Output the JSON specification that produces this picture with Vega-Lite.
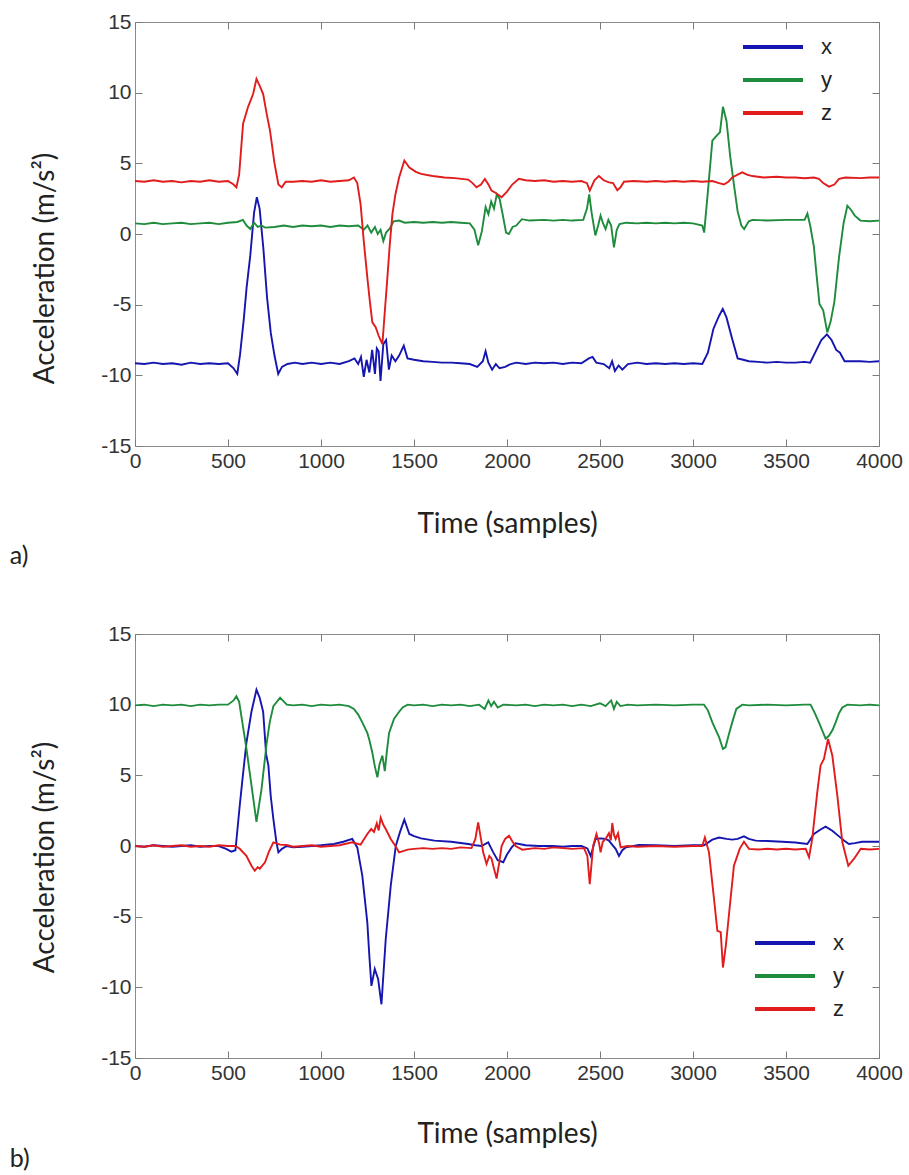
{
"$schema": "https://vega.github.io/schema/vega-lite/v6.json",
"background": "white",
"padding": {"left": 9, "top": 10, "right": 5, "bottom": 0},
"config": {
 "view": {"stroke": "#8c8c8c", "strokeWidth": 1},
 "axis": {"grid": false, "domain": false, "tickColor": "#7a7a7a", "tickSize": -7, "tickWidth": 1, "labelFont": "Liberation Sans", "labelFontSize": 21, "labelColor": "#333333", "labelPadding": 11, "labelFlush": false, "labelOverlap": false, "labelExpr": "'' + datum.value", "titleFont": "Lato", "titleFontSize": 28, "titleFontWeight": "normal", "titleColor": "#222222"},
 "legend": {"symbolType": "M-1.5,0H1.5", "symbolSize": 1600, "symbolStrokeWidth": 4, "labelFont": "Liberation Sans", "labelFontSize": 22, "labelColor": "#222222", "labelOffset": 26, "rowPadding": 0, "padding": 0},
 "title": {"font": "Lato", "fontSize": 25, "fontWeight": "normal", "color": "#222222"}
},
"data": {"values": [
{"p":"a","s":"x","t":0,"v":-9.15},{"p":"a","s":"x","t":50,"v":-9.2},{"p":"a","s":"x","t":100,"v":-9.1},{"p":"a","s":"x","t":150,"v":-9.2},{"p":"a","s":"x","t":200,"v":-9.15},{"p":"a","s":"x","t":250,"v":-9.25},{"p":"a","s":"x","t":300,"v":-9.1},{"p":"a","s":"x","t":350,"v":-9.2},{"p":"a","s":"x","t":400,"v":-9.15},{"p":"a","s":"x","t":450,"v":-9.2},{"p":"a","s":"x","t":500,"v":-9.15},{"p":"a","s":"x","t":530,"v":-9.5},{"p":"a","s":"x","t":550,"v":-9.9},{"p":"a","s":"x","t":565,"v":-8.5},{"p":"a","s":"x","t":585,"v":-6.0},{"p":"a","s":"x","t":600,"v":-3.8},{"p":"a","s":"x","t":620,"v":-1.5},{"p":"a","s":"x","t":640,"v":1.5},{"p":"a","s":"x","t":655,"v":2.6},{"p":"a","s":"x","t":670,"v":1.8},{"p":"a","s":"x","t":690,"v":-1.0},{"p":"a","s":"x","t":710,"v":-4.5},{"p":"a","s":"x","t":730,"v":-7.0},{"p":"a","s":"x","t":750,"v":-8.6},{"p":"a","s":"x","t":770,"v":-9.9},{"p":"a","s":"x","t":790,"v":-9.4},{"p":"a","s":"x","t":820,"v":-9.2},{"p":"a","s":"x","t":860,"v":-9.1},{"p":"a","s":"x","t":900,"v":-9.2},{"p":"a","s":"x","t":950,"v":-9.1},{"p":"a","s":"x","t":1000,"v":-9.2},{"p":"a","s":"x","t":1050,"v":-9.1},{"p":"a","s":"x","t":1100,"v":-9.2},{"p":"a","s":"x","t":1150,"v":-9.0},{"p":"a","s":"x","t":1180,"v":-8.8},{"p":"a","s":"x","t":1200,"v":-9.2},{"p":"a","s":"x","t":1215,"v":-8.7},{"p":"a","s":"x","t":1230,"v":-10.1},{"p":"a","s":"x","t":1245,"v":-8.9},{"p":"a","s":"x","t":1260,"v":-9.8},{"p":"a","s":"x","t":1275,"v":-8.2},{"p":"a","s":"x","t":1290,"v":-9.9},{"p":"a","s":"x","t":1300,"v":-8.1},{"p":"a","s":"x","t":1310,"v":-8.3},{"p":"a","s":"x","t":1320,"v":-10.4},{"p":"a","s":"x","t":1335,"v":-7.8},{"p":"a","s":"x","t":1350,"v":-7.5},{"p":"a","s":"x","t":1365,"v":-9.6},{"p":"a","s":"x","t":1380,"v":-8.6},{"p":"a","s":"x","t":1400,"v":-9.0},{"p":"a","s":"x","t":1420,"v":-8.6},{"p":"a","s":"x","t":1445,"v":-7.9},{"p":"a","s":"x","t":1465,"v":-8.8},{"p":"a","s":"x","t":1500,"v":-8.9},{"p":"a","s":"x","t":1550,"v":-9.0},{"p":"a","s":"x","t":1600,"v":-9.05},{"p":"a","s":"x","t":1650,"v":-9.1},{"p":"a","s":"x","t":1700,"v":-9.1},{"p":"a","s":"x","t":1750,"v":-9.15},{"p":"a","s":"x","t":1800,"v":-9.2},{"p":"a","s":"x","t":1840,"v":-9.4},{"p":"a","s":"x","t":1870,"v":-9.0},{"p":"a","s":"x","t":1885,"v":-8.3},{"p":"a","s":"x","t":1900,"v":-9.1},{"p":"a","s":"x","t":1920,"v":-9.6},{"p":"a","s":"x","t":1940,"v":-9.2},{"p":"a","s":"x","t":1960,"v":-9.5},{"p":"a","s":"x","t":1990,"v":-9.4},{"p":"a","s":"x","t":2020,"v":-9.2},{"p":"a","s":"x","t":2050,"v":-9.1},{"p":"a","s":"x","t":2100,"v":-9.2},{"p":"a","s":"x","t":2150,"v":-9.1},{"p":"a","s":"x","t":2200,"v":-9.15},{"p":"a","s":"x","t":2250,"v":-9.1},{"p":"a","s":"x","t":2300,"v":-9.2},{"p":"a","s":"x","t":2350,"v":-9.1},{"p":"a","s":"x","t":2400,"v":-9.15},{"p":"a","s":"x","t":2440,"v":-8.8},{"p":"a","s":"x","t":2460,"v":-8.7},{"p":"a","s":"x","t":2480,"v":-9.1},{"p":"a","s":"x","t":2520,"v":-9.2},{"p":"a","s":"x","t":2550,"v":-9.5},{"p":"a","s":"x","t":2565,"v":-9.0},{"p":"a","s":"x","t":2580,"v":-9.7},{"p":"a","s":"x","t":2600,"v":-9.3},{"p":"a","s":"x","t":2620,"v":-9.6},{"p":"a","s":"x","t":2650,"v":-9.2},{"p":"a","s":"x","t":2700,"v":-9.1},{"p":"a","s":"x","t":2750,"v":-9.2},{"p":"a","s":"x","t":2800,"v":-9.15},{"p":"a","s":"x","t":2850,"v":-9.2},{"p":"a","s":"x","t":2900,"v":-9.15},{"p":"a","s":"x","t":2950,"v":-9.2},{"p":"a","s":"x","t":3000,"v":-9.15},{"p":"a","s":"x","t":3050,"v":-9.2},{"p":"a","s":"x","t":3080,"v":-8.4},{"p":"a","s":"x","t":3110,"v":-6.7},{"p":"a","s":"x","t":3140,"v":-5.8},{"p":"a","s":"x","t":3160,"v":-5.3},{"p":"a","s":"x","t":3180,"v":-5.9},{"p":"a","s":"x","t":3210,"v":-7.4},{"p":"a","s":"x","t":3240,"v":-8.8},{"p":"a","s":"x","t":3270,"v":-8.9},{"p":"a","s":"x","t":3300,"v":-9.0},{"p":"a","s":"x","t":3350,"v":-9.05},{"p":"a","s":"x","t":3400,"v":-9.1},{"p":"a","s":"x","t":3450,"v":-9.05},{"p":"a","s":"x","t":3500,"v":-9.1},{"p":"a","s":"x","t":3550,"v":-9.1},{"p":"a","s":"x","t":3600,"v":-9.05},{"p":"a","s":"x","t":3630,"v":-9.1},{"p":"a","s":"x","t":3660,"v":-8.3},{"p":"a","s":"x","t":3690,"v":-7.5},{"p":"a","s":"x","t":3720,"v":-7.1},{"p":"a","s":"x","t":3745,"v":-7.5},{"p":"a","s":"x","t":3770,"v":-8.2},{"p":"a","s":"x","t":3790,"v":-8.4},{"p":"a","s":"x","t":3815,"v":-9.0},{"p":"a","s":"x","t":3850,"v":-9.0},{"p":"a","s":"x","t":3900,"v":-9.0},{"p":"a","s":"x","t":3950,"v":-9.05},{"p":"a","s":"x","t":4000,"v":-9.0},
{"p":"a","s":"y","t":0,"v":0.75},{"p":"a","s":"y","t":50,"v":0.7},{"p":"a","s":"y","t":100,"v":0.8},{"p":"a","s":"y","t":150,"v":0.7},{"p":"a","s":"y","t":200,"v":0.75},{"p":"a","s":"y","t":250,"v":0.8},{"p":"a","s":"y","t":300,"v":0.7},{"p":"a","s":"y","t":350,"v":0.75},{"p":"a","s":"y","t":400,"v":0.8},{"p":"a","s":"y","t":450,"v":0.7},{"p":"a","s":"y","t":500,"v":0.8},{"p":"a","s":"y","t":550,"v":0.85},{"p":"a","s":"y","t":580,"v":1.0},{"p":"a","s":"y","t":600,"v":0.6},{"p":"a","s":"y","t":620,"v":0.35},{"p":"a","s":"y","t":640,"v":0.8},{"p":"a","s":"y","t":660,"v":0.5},{"p":"a","s":"y","t":680,"v":0.6},{"p":"a","s":"y","t":700,"v":0.45},{"p":"a","s":"y","t":750,"v":0.5},{"p":"a","s":"y","t":800,"v":0.6},{"p":"a","s":"y","t":850,"v":0.5},{"p":"a","s":"y","t":900,"v":0.6},{"p":"a","s":"y","t":950,"v":0.55},{"p":"a","s":"y","t":1000,"v":0.6},{"p":"a","s":"y","t":1050,"v":0.5},{"p":"a","s":"y","t":1100,"v":0.6},{"p":"a","s":"y","t":1150,"v":0.55},{"p":"a","s":"y","t":1200,"v":0.6},{"p":"a","s":"y","t":1230,"v":0.3},{"p":"a","s":"y","t":1250,"v":0.6},{"p":"a","s":"y","t":1270,"v":0.1},{"p":"a","s":"y","t":1290,"v":0.5},{"p":"a","s":"y","t":1305,"v":0.0},{"p":"a","s":"y","t":1320,"v":0.3},{"p":"a","s":"y","t":1335,"v":-0.5},{"p":"a","s":"y","t":1350,"v":0.1},{"p":"a","s":"y","t":1370,"v":0.4},{"p":"a","s":"y","t":1390,"v":0.9},{"p":"a","s":"y","t":1420,"v":0.95},{"p":"a","s":"y","t":1450,"v":0.8},{"p":"a","s":"y","t":1500,"v":0.85},{"p":"a","s":"y","t":1550,"v":0.8},{"p":"a","s":"y","t":1600,"v":0.85},{"p":"a","s":"y","t":1650,"v":0.8},{"p":"a","s":"y","t":1700,"v":0.85},{"p":"a","s":"y","t":1750,"v":0.8},{"p":"a","s":"y","t":1800,"v":0.75},{"p":"a","s":"y","t":1825,"v":0.3},{"p":"a","s":"y","t":1845,"v":-0.8},{"p":"a","s":"y","t":1865,"v":0.2},{"p":"a","s":"y","t":1885,"v":1.9},{"p":"a","s":"y","t":1900,"v":1.4},{"p":"a","s":"y","t":1915,"v":2.3},{"p":"a","s":"y","t":1930,"v":1.8},{"p":"a","s":"y","t":1945,"v":2.8},{"p":"a","s":"y","t":1960,"v":2.5},{"p":"a","s":"y","t":1975,"v":1.5},{"p":"a","s":"y","t":1995,"v":0.1},{"p":"a","s":"y","t":2010,"v":0.0},{"p":"a","s":"y","t":2030,"v":0.5},{"p":"a","s":"y","t":2050,"v":0.6},{"p":"a","s":"y","t":2080,"v":1.05},{"p":"a","s":"y","t":2120,"v":0.95},{"p":"a","s":"y","t":2200,"v":1.0},{"p":"a","s":"y","t":2250,"v":0.95},{"p":"a","s":"y","t":2300,"v":1.0},{"p":"a","s":"y","t":2350,"v":0.95},{"p":"a","s":"y","t":2410,"v":1.0},{"p":"a","s":"y","t":2430,"v":1.8},{"p":"a","s":"y","t":2442,"v":2.8},{"p":"a","s":"y","t":2455,"v":1.5},{"p":"a","s":"y","t":2475,"v":-0.1},{"p":"a","s":"y","t":2490,"v":0.6},{"p":"a","s":"y","t":2503,"v":1.3},{"p":"a","s":"y","t":2515,"v":0.8},{"p":"a","s":"y","t":2530,"v":0.35},{"p":"a","s":"y","t":2545,"v":1.0},{"p":"a","s":"y","t":2560,"v":0.6},{"p":"a","s":"y","t":2575,"v":-0.95},{"p":"a","s":"y","t":2590,"v":0.3},{"p":"a","s":"y","t":2605,"v":0.7},{"p":"a","s":"y","t":2640,"v":0.8},{"p":"a","s":"y","t":2700,"v":0.75},{"p":"a","s":"y","t":2750,"v":0.8},{"p":"a","s":"y","t":2800,"v":0.75},{"p":"a","s":"y","t":2850,"v":0.8},{"p":"a","s":"y","t":2900,"v":0.75},{"p":"a","s":"y","t":2950,"v":0.8},{"p":"a","s":"y","t":3000,"v":0.75},{"p":"a","s":"y","t":3050,"v":0.6},{"p":"a","s":"y","t":3060,"v":0.1},{"p":"a","s":"y","t":3080,"v":3.0},{"p":"a","s":"y","t":3104,"v":6.6},{"p":"a","s":"y","t":3130,"v":7.0},{"p":"a","s":"y","t":3145,"v":7.2},{"p":"a","s":"y","t":3161,"v":9.0},{"p":"a","s":"y","t":3180,"v":8.0},{"p":"a","s":"y","t":3200,"v":5.5},{"p":"a","s":"y","t":3220,"v":3.5},{"p":"a","s":"y","t":3240,"v":1.6},{"p":"a","s":"y","t":3260,"v":0.6},{"p":"a","s":"y","t":3275,"v":0.35},{"p":"a","s":"y","t":3300,"v":0.9},{"p":"a","s":"y","t":3320,"v":1.0},{"p":"a","s":"y","t":3400,"v":0.95},{"p":"a","s":"y","t":3500,"v":1.0},{"p":"a","s":"y","t":3600,"v":1.0},{"p":"a","s":"y","t":3615,"v":1.45},{"p":"a","s":"y","t":3630,"v":0.6},{"p":"a","s":"y","t":3650,"v":-0.9},{"p":"a","s":"y","t":3665,"v":-3.0},{"p":"a","s":"y","t":3680,"v":-4.95},{"p":"a","s":"y","t":3700,"v":-5.4},{"p":"a","s":"y","t":3722,"v":-6.96},{"p":"a","s":"y","t":3740,"v":-6.2},{"p":"a","s":"y","t":3760,"v":-4.8},{"p":"a","s":"y","t":3785,"v":-1.65},{"p":"a","s":"y","t":3810,"v":0.8},{"p":"a","s":"y","t":3830,"v":2.0},{"p":"a","s":"y","t":3850,"v":1.7},{"p":"a","s":"y","t":3870,"v":1.3},{"p":"a","s":"y","t":3900,"v":0.95},{"p":"a","s":"y","t":3950,"v":0.9},{"p":"a","s":"y","t":4000,"v":0.95},
{"p":"a","s":"z","t":0,"v":3.75},{"p":"a","s":"z","t":50,"v":3.7},{"p":"a","s":"z","t":100,"v":3.8},{"p":"a","s":"z","t":150,"v":3.7},{"p":"a","s":"z","t":200,"v":3.75},{"p":"a","s":"z","t":250,"v":3.65},{"p":"a","s":"z","t":300,"v":3.75},{"p":"a","s":"z","t":350,"v":3.7},{"p":"a","s":"z","t":400,"v":3.8},{"p":"a","s":"z","t":450,"v":3.7},{"p":"a","s":"z","t":500,"v":3.75},{"p":"a","s":"z","t":530,"v":3.5},{"p":"a","s":"z","t":545,"v":3.3},{"p":"a","s":"z","t":560,"v":4.2},{"p":"a","s":"z","t":581,"v":7.8},{"p":"a","s":"z","t":608,"v":9.0},{"p":"a","s":"z","t":635,"v":9.9},{"p":"a","s":"z","t":653,"v":10.97},{"p":"a","s":"z","t":670,"v":10.5},{"p":"a","s":"z","t":689,"v":9.9},{"p":"a","s":"z","t":708,"v":8.5},{"p":"a","s":"z","t":726,"v":7.3},{"p":"a","s":"z","t":750,"v":5.0},{"p":"a","s":"z","t":771,"v":3.5},{"p":"a","s":"z","t":789,"v":3.3},{"p":"a","s":"z","t":810,"v":3.7},{"p":"a","s":"z","t":850,"v":3.7},{"p":"a","s":"z","t":900,"v":3.75},{"p":"a","s":"z","t":950,"v":3.7},{"p":"a","s":"z","t":1000,"v":3.8},{"p":"a","s":"z","t":1050,"v":3.7},{"p":"a","s":"z","t":1100,"v":3.75},{"p":"a","s":"z","t":1150,"v":3.8},{"p":"a","s":"z","t":1177,"v":4.0},{"p":"a","s":"z","t":1195,"v":3.6},{"p":"a","s":"z","t":1213,"v":2.1},{"p":"a","s":"z","t":1230,"v":-0.5},{"p":"a","s":"z","t":1249,"v":-3.07},{"p":"a","s":"z","t":1263,"v":-4.8},{"p":"a","s":"z","t":1276,"v":-6.25},{"p":"a","s":"z","t":1294,"v":-6.6},{"p":"a","s":"z","t":1310,"v":-7.2},{"p":"a","s":"z","t":1330,"v":-7.8},{"p":"a","s":"z","t":1343,"v":-5.5},{"p":"a","s":"z","t":1357,"v":-3.07},{"p":"a","s":"z","t":1370,"v":-0.7},{"p":"a","s":"z","t":1384,"v":1.4},{"p":"a","s":"z","t":1400,"v":2.8},{"p":"a","s":"z","t":1420,"v":4.0},{"p":"a","s":"z","t":1448,"v":5.2},{"p":"a","s":"z","t":1475,"v":4.7},{"p":"a","s":"z","t":1510,"v":4.4},{"p":"a","s":"z","t":1538,"v":4.25},{"p":"a","s":"z","t":1600,"v":4.1},{"p":"a","s":"z","t":1664,"v":4.0},{"p":"a","s":"z","t":1720,"v":3.95},{"p":"a","s":"z","t":1791,"v":3.85},{"p":"a","s":"z","t":1815,"v":3.6},{"p":"a","s":"z","t":1836,"v":3.3},{"p":"a","s":"z","t":1860,"v":3.5},{"p":"a","s":"z","t":1881,"v":3.9},{"p":"a","s":"z","t":1900,"v":3.5},{"p":"a","s":"z","t":1917,"v":3.07},{"p":"a","s":"z","t":1940,"v":2.9},{"p":"a","s":"z","t":1971,"v":2.6},{"p":"a","s":"z","t":2000,"v":3.0},{"p":"a","s":"z","t":2028,"v":3.5},{"p":"a","s":"z","t":2064,"v":3.9},{"p":"a","s":"z","t":2100,"v":3.8},{"p":"a","s":"z","t":2150,"v":3.75},{"p":"a","s":"z","t":2200,"v":3.8},{"p":"a","s":"z","t":2250,"v":3.7},{"p":"a","s":"z","t":2300,"v":3.75},{"p":"a","s":"z","t":2350,"v":3.7},{"p":"a","s":"z","t":2400,"v":3.75},{"p":"a","s":"z","t":2430,"v":3.6},{"p":"a","s":"z","t":2445,"v":3.07},{"p":"a","s":"z","t":2470,"v":3.8},{"p":"a","s":"z","t":2494,"v":4.1},{"p":"a","s":"z","t":2520,"v":3.8},{"p":"a","s":"z","t":2548,"v":3.65},{"p":"a","s":"z","t":2570,"v":3.6},{"p":"a","s":"z","t":2593,"v":3.1},{"p":"a","s":"z","t":2610,"v":3.3},{"p":"a","s":"z","t":2629,"v":3.7},{"p":"a","s":"z","t":2680,"v":3.75},{"p":"a","s":"z","t":2750,"v":3.7},{"p":"a","s":"z","t":2800,"v":3.75},{"p":"a","s":"z","t":2850,"v":3.7},{"p":"a","s":"z","t":2900,"v":3.75},{"p":"a","s":"z","t":2950,"v":3.7},{"p":"a","s":"z","t":3000,"v":3.75},{"p":"a","s":"z","t":3050,"v":3.7},{"p":"a","s":"z","t":3104,"v":3.75},{"p":"a","s":"z","t":3140,"v":3.6},{"p":"a","s":"z","t":3166,"v":3.5},{"p":"a","s":"z","t":3190,"v":3.7},{"p":"a","s":"z","t":3211,"v":4.0},{"p":"a","s":"z","t":3240,"v":4.2},{"p":"a","s":"z","t":3265,"v":4.36},{"p":"a","s":"z","t":3290,"v":4.2},{"p":"a","s":"z","t":3319,"v":4.1},{"p":"a","s":"z","t":3380,"v":4.0},{"p":"a","s":"z","t":3450,"v":4.05},{"p":"a","s":"z","t":3500,"v":4.0},{"p":"a","s":"z","t":3550,"v":4.0},{"p":"a","s":"z","t":3600,"v":3.95},{"p":"a","s":"z","t":3650,"v":4.0},{"p":"a","s":"z","t":3677,"v":3.9},{"p":"a","s":"z","t":3700,"v":3.6},{"p":"a","s":"z","t":3731,"v":3.35},{"p":"a","s":"z","t":3760,"v":3.5},{"p":"a","s":"z","t":3785,"v":3.9},{"p":"a","s":"z","t":3820,"v":4.0},{"p":"a","s":"z","t":3900,"v":3.95},{"p":"a","s":"z","t":3950,"v":4.0},{"p":"a","s":"z","t":4000,"v":4.0},
{"p":"b","s":"x","t":0,"v":0.0},{"p":"b","s":"x","t":50,"v":-0.05},{"p":"b","s":"x","t":100,"v":0.05},{"p":"b","s":"x","t":150,"v":0.0},{"p":"b","s":"x","t":200,"v":-0.05},{"p":"b","s":"x","t":250,"v":0.0},{"p":"b","s":"x","t":300,"v":0.05},{"p":"b","s":"x","t":350,"v":-0.05},{"p":"b","s":"x","t":400,"v":0.0},{"p":"b","s":"x","t":450,"v":0.0},{"p":"b","s":"x","t":490,"v":-0.2},{"p":"b","s":"x","t":518,"v":-0.4},{"p":"b","s":"x","t":540,"v":-0.3},{"p":"b","s":"x","t":563,"v":2.85},{"p":"b","s":"x","t":580,"v":5.0},{"p":"b","s":"x","t":599,"v":7.3},{"p":"b","s":"x","t":626,"v":9.5},{"p":"b","s":"x","t":653,"v":11.06},{"p":"b","s":"x","t":670,"v":10.5},{"p":"b","s":"x","t":689,"v":9.5},{"p":"b","s":"x","t":705,"v":6.5},{"p":"b","s":"x","t":717,"v":5.7},{"p":"b","s":"x","t":730,"v":3.5},{"p":"b","s":"x","t":744,"v":1.9},{"p":"b","s":"x","t":760,"v":0.3},{"p":"b","s":"x","t":771,"v":-0.45},{"p":"b","s":"x","t":790,"v":-0.2},{"p":"b","s":"x","t":816,"v":0.0},{"p":"b","s":"x","t":850,"v":-0.1},{"p":"b","s":"x","t":900,"v":-0.05},{"p":"b","s":"x","t":950,"v":0.0},{"p":"b","s":"x","t":1000,"v":0.05},{"p":"b","s":"x","t":1069,"v":0.14},{"p":"b","s":"x","t":1120,"v":0.3},{"p":"b","s":"x","t":1168,"v":0.5},{"p":"b","s":"x","t":1195,"v":-0.1},{"p":"b","s":"x","t":1222,"v":-2.1},{"p":"b","s":"x","t":1249,"v":-5.4},{"p":"b","s":"x","t":1260,"v":-7.8},{"p":"b","s":"x","t":1271,"v":-9.9},{"p":"b","s":"x","t":1289,"v":-8.7},{"p":"b","s":"x","t":1307,"v":-9.4},{"p":"b","s":"x","t":1325,"v":-11.2},{"p":"b","s":"x","t":1348,"v":-6.6},{"p":"b","s":"x","t":1375,"v":-2.8},{"p":"b","s":"x","t":1402,"v":0.0},{"p":"b","s":"x","t":1425,"v":1.0},{"p":"b","s":"x","t":1448,"v":1.86},{"p":"b","s":"x","t":1475,"v":0.85},{"p":"b","s":"x","t":1500,"v":0.7},{"p":"b","s":"x","t":1538,"v":0.54},{"p":"b","s":"x","t":1610,"v":0.38},{"p":"b","s":"x","t":1700,"v":0.3},{"p":"b","s":"x","t":1791,"v":0.14},{"p":"b","s":"x","t":1830,"v":0.05},{"p":"b","s":"x","t":1863,"v":0.0},{"p":"b","s":"x","t":1899,"v":0.26},{"p":"b","s":"x","t":1926,"v":-0.45},{"p":"b","s":"x","t":1950,"v":-1.0},{"p":"b","s":"x","t":1980,"v":-1.15},{"p":"b","s":"x","t":2000,"v":-0.6},{"p":"b","s":"x","t":2025,"v":-0.1},{"p":"b","s":"x","t":2046,"v":0.19},{"p":"b","s":"x","t":2100,"v":0.05},{"p":"b","s":"x","t":2172,"v":0.0},{"p":"b","s":"x","t":2250,"v":0.0},{"p":"b","s":"x","t":2300,"v":-0.05},{"p":"b","s":"x","t":2350,"v":0.0},{"p":"b","s":"x","t":2400,"v":0.0},{"p":"b","s":"x","t":2432,"v":-0.17},{"p":"b","s":"x","t":2450,"v":-0.7},{"p":"b","s":"x","t":2476,"v":0.5},{"p":"b","s":"x","t":2503,"v":0.54},{"p":"b","s":"x","t":2530,"v":0.5},{"p":"b","s":"x","t":2548,"v":0.38},{"p":"b","s":"x","t":2565,"v":0.1},{"p":"b","s":"x","t":2584,"v":-0.2},{"p":"b","s":"x","t":2602,"v":-0.7},{"p":"b","s":"x","t":2620,"v":-0.3},{"p":"b","s":"x","t":2638,"v":-0.1},{"p":"b","s":"x","t":2709,"v":0.07},{"p":"b","s":"x","t":2800,"v":0.05},{"p":"b","s":"x","t":2900,"v":0.0},{"p":"b","s":"x","t":3000,"v":0.05},{"p":"b","s":"x","t":3059,"v":0.05},{"p":"b","s":"x","t":3104,"v":0.45},{"p":"b","s":"x","t":3140,"v":0.6},{"p":"b","s":"x","t":3180,"v":0.5},{"p":"b","s":"x","t":3211,"v":0.45},{"p":"b","s":"x","t":3240,"v":0.5},{"p":"b","s":"x","t":3274,"v":0.68},{"p":"b","s":"x","t":3300,"v":0.5},{"p":"b","s":"x","t":3337,"v":0.38},{"p":"b","s":"x","t":3400,"v":0.35},{"p":"b","s":"x","t":3480,"v":0.3},{"p":"b","s":"x","t":3550,"v":0.25},{"p":"b","s":"x","t":3615,"v":0.14},{"p":"b","s":"x","t":3650,"v":0.85},{"p":"b","s":"x","t":3690,"v":1.2},{"p":"b","s":"x","t":3713,"v":1.37},{"p":"b","s":"x","t":3749,"v":1.08},{"p":"b","s":"x","t":3785,"v":0.68},{"p":"b","s":"x","t":3810,"v":0.4},{"p":"b","s":"x","t":3838,"v":0.14},{"p":"b","s":"x","t":3870,"v":0.2},{"p":"b","s":"x","t":3910,"v":0.3},{"p":"b","s":"x","t":3950,"v":0.3},{"p":"b","s":"x","t":4000,"v":0.3},
{"p":"b","s":"y","t":0,"v":9.95},{"p":"b","s":"y","t":50,"v":10.0},{"p":"b","s":"y","t":100,"v":9.9},{"p":"b","s":"y","t":150,"v":10.0},{"p":"b","s":"y","t":200,"v":9.95},{"p":"b","s":"y","t":250,"v":10.0},{"p":"b","s":"y","t":300,"v":9.9},{"p":"b","s":"y","t":350,"v":10.0},{"p":"b","s":"y","t":400,"v":9.95},{"p":"b","s":"y","t":450,"v":10.0},{"p":"b","s":"y","t":500,"v":10.0},{"p":"b","s":"y","t":530,"v":10.3},{"p":"b","s":"y","t":545,"v":10.6},{"p":"b","s":"y","t":560,"v":10.2},{"p":"b","s":"y","t":580,"v":8.5},{"p":"b","s":"y","t":599,"v":6.9},{"p":"b","s":"y","t":626,"v":4.3},{"p":"b","s":"y","t":653,"v":1.7},{"p":"b","s":"y","t":680,"v":4.0},{"p":"b","s":"y","t":708,"v":7.3},{"p":"b","s":"y","t":725,"v":8.8},{"p":"b","s":"y","t":744,"v":9.9},{"p":"b","s":"y","t":780,"v":10.5},{"p":"b","s":"y","t":816,"v":10.0},{"p":"b","s":"y","t":850,"v":9.95},{"p":"b","s":"y","t":900,"v":10.0},{"p":"b","s":"y","t":950,"v":9.9},{"p":"b","s":"y","t":1000,"v":10.0},{"p":"b","s":"y","t":1050,"v":9.95},{"p":"b","s":"y","t":1100,"v":10.0},{"p":"b","s":"y","t":1150,"v":9.9},{"p":"b","s":"y","t":1177,"v":9.7},{"p":"b","s":"y","t":1200,"v":9.3},{"p":"b","s":"y","t":1222,"v":8.75},{"p":"b","s":"y","t":1249,"v":8.0},{"p":"b","s":"y","t":1260,"v":7.5},{"p":"b","s":"y","t":1276,"v":6.6},{"p":"b","s":"y","t":1290,"v":5.6},{"p":"b","s":"y","t":1303,"v":4.86},{"p":"b","s":"y","t":1315,"v":5.8},{"p":"b","s":"y","t":1330,"v":6.4},{"p":"b","s":"y","t":1343,"v":5.3},{"p":"b","s":"y","t":1355,"v":6.8},{"p":"b","s":"y","t":1366,"v":8.0},{"p":"b","s":"y","t":1393,"v":9.0},{"p":"b","s":"y","t":1420,"v":9.5},{"p":"b","s":"y","t":1439,"v":9.8},{"p":"b","s":"y","t":1466,"v":10.0},{"p":"b","s":"y","t":1500,"v":9.95},{"p":"b","s":"y","t":1550,"v":10.0},{"p":"b","s":"y","t":1600,"v":9.9},{"p":"b","s":"y","t":1650,"v":10.0},{"p":"b","s":"y","t":1700,"v":9.95},{"p":"b","s":"y","t":1750,"v":10.0},{"p":"b","s":"y","t":1800,"v":9.9},{"p":"b","s":"y","t":1850,"v":10.0},{"p":"b","s":"y","t":1880,"v":9.7},{"p":"b","s":"y","t":1900,"v":10.3},{"p":"b","s":"y","t":1915,"v":9.9},{"p":"b","s":"y","t":1930,"v":10.2},{"p":"b","s":"y","t":1950,"v":9.8},{"p":"b","s":"y","t":1980,"v":10.0},{"p":"b","s":"y","t":2050,"v":9.95},{"p":"b","s":"y","t":2100,"v":10.0},{"p":"b","s":"y","t":2150,"v":9.9},{"p":"b","s":"y","t":2200,"v":10.0},{"p":"b","s":"y","t":2250,"v":9.95},{"p":"b","s":"y","t":2300,"v":10.0},{"p":"b","s":"y","t":2350,"v":9.9},{"p":"b","s":"y","t":2400,"v":10.0},{"p":"b","s":"y","t":2450,"v":9.9},{"p":"b","s":"y","t":2500,"v":10.1},{"p":"b","s":"y","t":2530,"v":9.9},{"p":"b","s":"y","t":2560,"v":10.3},{"p":"b","s":"y","t":2575,"v":9.7},{"p":"b","s":"y","t":2590,"v":10.2},{"p":"b","s":"y","t":2610,"v":9.9},{"p":"b","s":"y","t":2650,"v":10.0},{"p":"b","s":"y","t":2700,"v":9.95},{"p":"b","s":"y","t":2800,"v":10.0},{"p":"b","s":"y","t":2900,"v":9.95},{"p":"b","s":"y","t":3000,"v":10.0},{"p":"b","s":"y","t":3059,"v":10.0},{"p":"b","s":"y","t":3080,"v":9.6},{"p":"b","s":"y","t":3104,"v":8.75},{"p":"b","s":"y","t":3140,"v":7.7},{"p":"b","s":"y","t":3161,"v":6.86},{"p":"b","s":"y","t":3175,"v":7.0},{"p":"b","s":"y","t":3193,"v":7.9},{"p":"b","s":"y","t":3212,"v":8.8},{"p":"b","s":"y","t":3233,"v":9.7},{"p":"b","s":"y","t":3265,"v":10.0},{"p":"b","s":"y","t":3300,"v":9.95},{"p":"b","s":"y","t":3400,"v":10.0},{"p":"b","s":"y","t":3500,"v":9.95},{"p":"b","s":"y","t":3600,"v":10.0},{"p":"b","s":"y","t":3632,"v":10.0},{"p":"b","s":"y","t":3655,"v":9.4},{"p":"b","s":"y","t":3677,"v":8.75},{"p":"b","s":"y","t":3713,"v":7.6},{"p":"b","s":"y","t":3731,"v":7.8},{"p":"b","s":"y","t":3750,"v":8.2},{"p":"b","s":"y","t":3767,"v":8.75},{"p":"b","s":"y","t":3785,"v":9.4},{"p":"b","s":"y","t":3803,"v":9.8},{"p":"b","s":"y","t":3830,"v":10.0},{"p":"b","s":"y","t":3900,"v":9.95},{"p":"b","s":"y","t":3950,"v":10.0},{"p":"b","s":"y","t":4000,"v":9.95},
{"p":"b","s":"z","t":0,"v":0.0},{"p":"b","s":"z","t":50,"v":-0.05},{"p":"b","s":"z","t":100,"v":0.05},{"p":"b","s":"z","t":150,"v":-0.05},{"p":"b","s":"z","t":200,"v":0.0},{"p":"b","s":"z","t":250,"v":0.05},{"p":"b","s":"z","t":300,"v":-0.05},{"p":"b","s":"z","t":350,"v":0.0},{"p":"b","s":"z","t":400,"v":-0.05},{"p":"b","s":"z","t":450,"v":0.05},{"p":"b","s":"z","t":500,"v":0.0},{"p":"b","s":"z","t":540,"v":0.0},{"p":"b","s":"z","t":563,"v":-0.2},{"p":"b","s":"z","t":599,"v":-0.7},{"p":"b","s":"z","t":626,"v":-1.4},{"p":"b","s":"z","t":644,"v":-1.75},{"p":"b","s":"z","t":660,"v":-1.5},{"p":"b","s":"z","t":671,"v":-1.6},{"p":"b","s":"z","t":699,"v":-1.15},{"p":"b","s":"z","t":720,"v":-0.4},{"p":"b","s":"z","t":744,"v":0.26},{"p":"b","s":"z","t":780,"v":0.1},{"p":"b","s":"z","t":816,"v":0.07},{"p":"b","s":"z","t":850,"v":-0.05},{"p":"b","s":"z","t":900,"v":0.0},{"p":"b","s":"z","t":950,"v":0.05},{"p":"b","s":"z","t":1000,"v":-0.05},{"p":"b","s":"z","t":1050,"v":0.0},{"p":"b","s":"z","t":1100,"v":0.05},{"p":"b","s":"z","t":1168,"v":0.26},{"p":"b","s":"z","t":1213,"v":0.1},{"p":"b","s":"z","t":1249,"v":0.85},{"p":"b","s":"z","t":1270,"v":1.2},{"p":"b","s":"z","t":1285,"v":1.0},{"p":"b","s":"z","t":1300,"v":1.6},{"p":"b","s":"z","t":1310,"v":1.1},{"p":"b","s":"z","t":1321,"v":2.0},{"p":"b","s":"z","t":1335,"v":1.5},{"p":"b","s":"z","t":1348,"v":1.2},{"p":"b","s":"z","t":1375,"v":0.5},{"p":"b","s":"z","t":1400,"v":0.0},{"p":"b","s":"z","t":1420,"v":-0.45},{"p":"b","s":"z","t":1466,"v":-0.26},{"p":"b","s":"z","t":1500,"v":-0.2},{"p":"b","s":"z","t":1550,"v":-0.15},{"p":"b","s":"z","t":1600,"v":-0.2},{"p":"b","s":"z","t":1650,"v":-0.15},{"p":"b","s":"z","t":1700,"v":-0.2},{"p":"b","s":"z","t":1750,"v":-0.1},{"p":"b","s":"z","t":1809,"v":-0.15},{"p":"b","s":"z","t":1830,"v":0.5},{"p":"b","s":"z","t":1845,"v":1.67},{"p":"b","s":"z","t":1860,"v":0.5},{"p":"b","s":"z","t":1872,"v":-0.45},{"p":"b","s":"z","t":1890,"v":-1.27},{"p":"b","s":"z","t":1905,"v":-0.7},{"p":"b","s":"z","t":1917,"v":-0.9},{"p":"b","s":"z","t":1930,"v":-1.6},{"p":"b","s":"z","t":1944,"v":-2.3},{"p":"b","s":"z","t":1958,"v":-1.2},{"p":"b","s":"z","t":1971,"v":0.0},{"p":"b","s":"z","t":1990,"v":0.5},{"p":"b","s":"z","t":2011,"v":0.73},{"p":"b","s":"z","t":2030,"v":0.3},{"p":"b","s":"z","t":2046,"v":0.0},{"p":"b","s":"z","t":2082,"v":-0.26},{"p":"b","s":"z","t":2150,"v":-0.15},{"p":"b","s":"z","t":2200,"v":-0.2},{"p":"b","s":"z","t":2250,"v":-0.1},{"p":"b","s":"z","t":2300,"v":-0.15},{"p":"b","s":"z","t":2350,"v":-0.2},{"p":"b","s":"z","t":2414,"v":-0.15},{"p":"b","s":"z","t":2432,"v":-0.7},{"p":"b","s":"z","t":2445,"v":-2.7},{"p":"b","s":"z","t":2463,"v":0.0},{"p":"b","s":"z","t":2481,"v":0.85},{"p":"b","s":"z","t":2495,"v":0.2},{"p":"b","s":"z","t":2503,"v":-0.45},{"p":"b","s":"z","t":2515,"v":0.3},{"p":"b","s":"z","t":2530,"v":0.5},{"p":"b","s":"z","t":2548,"v":0.9},{"p":"b","s":"z","t":2558,"v":0.4},{"p":"b","s":"z","t":2566,"v":1.63},{"p":"b","s":"z","t":2575,"v":0.8},{"p":"b","s":"z","t":2584,"v":0.5},{"p":"b","s":"z","t":2597,"v":0.9},{"p":"b","s":"z","t":2611,"v":-0.1},{"p":"b","s":"z","t":2647,"v":0.0},{"p":"b","s":"z","t":2700,"v":-0.05},{"p":"b","s":"z","t":2800,"v":0.0},{"p":"b","s":"z","t":2900,"v":-0.05},{"p":"b","s":"z","t":3000,"v":0.0},{"p":"b","s":"z","t":3050,"v":0.0},{"p":"b","s":"z","t":3064,"v":0.6},{"p":"b","s":"z","t":3086,"v":-0.45},{"p":"b","s":"z","t":3113,"v":-3.75},{"p":"b","s":"z","t":3131,"v":-6.0},{"p":"b","s":"z","t":3149,"v":-6.1},{"p":"b","s":"z","t":3161,"v":-8.6},{"p":"b","s":"z","t":3177,"v":-7.0},{"p":"b","s":"z","t":3193,"v":-4.9},{"p":"b","s":"z","t":3220,"v":-1.4},{"p":"b","s":"z","t":3251,"v":-0.2},{"p":"b","s":"z","t":3274,"v":0.3},{"p":"b","s":"z","t":3301,"v":-0.2},{"p":"b","s":"z","t":3350,"v":-0.25},{"p":"b","s":"z","t":3400,"v":-0.2},{"p":"b","s":"z","t":3450,"v":-0.25},{"p":"b","s":"z","t":3500,"v":-0.2},{"p":"b","s":"z","t":3550,"v":-0.25},{"p":"b","s":"z","t":3606,"v":-0.2},{"p":"b","s":"z","t":3624,"v":-0.8},{"p":"b","s":"z","t":3641,"v":0.5},{"p":"b","s":"z","t":3668,"v":3.8},{"p":"b","s":"z","t":3686,"v":5.7},{"p":"b","s":"z","t":3704,"v":6.16},{"p":"b","s":"z","t":3726,"v":7.57},{"p":"b","s":"z","t":3749,"v":6.4},{"p":"b","s":"z","t":3776,"v":3.56},{"p":"b","s":"z","t":3803,"v":0.26},{"p":"b","s":"z","t":3835,"v":-1.4},{"p":"b","s":"z","t":3866,"v":-0.9},{"p":"b","s":"z","t":3902,"v":-0.2},{"p":"b","s":"z","t":3950,"v":-0.25},{"p":"b","s":"z","t":4000,"v":-0.2}
]},
"spacing": 52,
"resolve": {"legend": {"color": "independent"}},
"vconcat": [
 {
  "width": 744, "height": 424,
  "title": {"text": "a)", "orient": "bottom", "anchor": "start", "frame": "bounds", "dx": -22, "offset": 6},
  "transform": [{"filter": "datum.p === 'a'"}],
  "layer": [
   {"mark": {"type": "line", "strokeWidth": 1.9},
    "encoding": {
     "x": {"field": "t", "type": "quantitative", "scale": {"domain": [0, 4000], "nice": false, "zero": false}, "axis": {"orient": "bottom", "values": [0,500,1000,1500,2000,2500,3000,3500,4000], "title": "Time (samples)", "titlePadding": 39}},
     "y": {"field": "v", "type": "quantitative", "scale": {"domain": [-15, 15], "nice": false}, "axis": {"orient": "left", "values": [-15,-10,-5,0,5,10,15], "title": "Acceleration (m/s²)", "titlePadding": 41, "titleY": 246}},
     "color": {"field": "s", "type": "nominal", "scale": {"domain": ["x","y","z"], "range": ["#1515b0","#1e8c3c","#e01c1c"]}, "legend": {"title": null, "orient": "none", "legendX": 616, "legendY": 3, "symbolStrokeWidth": 4, "encode": {"symbols": {"update": {"strokeWidth": {"value": 4}}}}}}
    }},
   {"mark": {"type": "line", "opacity": 0},
    "encoding": {
     "x": {"field": "t", "type": "quantitative", "axis": {"orient": "top", "values": [0,500,1000,1500,2000,2500,3000,3500,4000], "labels": false, "title": null}},
     "y": {"field": "v", "type": "quantitative", "axis": {"orient": "right", "values": [-15,-10,-5,0,5,10,15], "labels": false, "title": null}},
     "detail": {"field": "s"}
    }}
  ],
  "resolve": {"axis": {"x": "independent", "y": "independent"}}
 },
 {
  "width": 744, "height": 424,
  "title": {"text": "b)", "orient": "bottom", "anchor": "start", "frame": "bounds", "dx": -22, "offset": -1},
  "transform": [{"filter": "datum.p === 'b'"}],
  "layer": [
   {"mark": {"type": "line", "strokeWidth": 1.9},
    "encoding": {
     "x": {"field": "t", "type": "quantitative", "scale": {"domain": [0, 4000], "nice": false, "zero": false}, "axis": {"orient": "bottom", "values": [0,500,1000,1500,2000,2500,3000,3500,4000], "title": "Time (samples)", "titlePadding": 37}},
     "y": {"field": "v", "type": "quantitative", "scale": {"domain": [-15, 15], "nice": false}, "axis": {"orient": "left", "values": [-15,-10,-5,0,5,10,15], "title": "Acceleration (m/s²)", "titlePadding": 41, "titleY": 223}},
     "color": {"field": "s", "type": "nominal", "scale": {"domain": ["x","y","z"], "range": ["#1515b0","#1e8c3c","#e01c1c"]}, "legend": {"title": null, "orient": "none", "legendX": 628, "legendY": 287, "symbolStrokeWidth": 4, "encode": {"symbols": {"update": {"strokeWidth": {"value": 4}}}}}}
    }},
   {"mark": {"type": "line", "opacity": 0},
    "encoding": {
     "x": {"field": "t", "type": "quantitative", "axis": {"orient": "top", "values": [0,500,1000,1500,2000,2500,3000,3500,4000], "labels": false, "title": null}},
     "y": {"field": "v", "type": "quantitative", "axis": {"orient": "right", "values": [-15,-10,-5,0,5,10,15], "labels": false, "title": null}},
     "detail": {"field": "s"}
    }}
  ],
  "resolve": {"axis": {"x": "independent", "y": "independent"}}
 }
]
}
